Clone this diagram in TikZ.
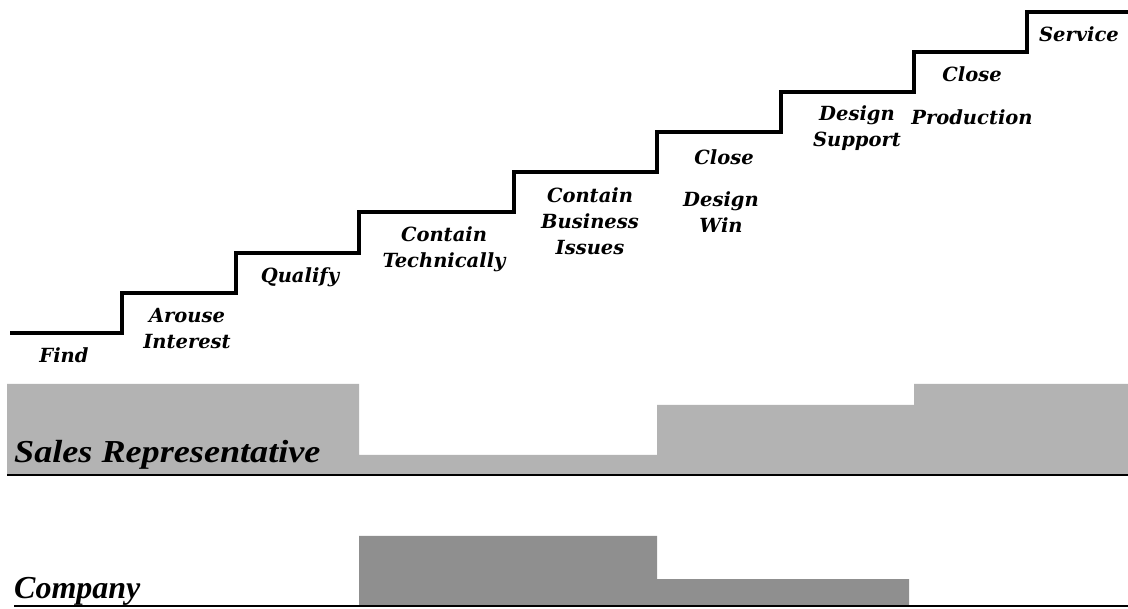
\documentclass[tikz,border=0pt]{standalone}
\usepackage{fontspec}
\setmainfont{DejaVu Serif}
\newfontfamily\rolefont{Liberation Serif}
\newfontfamily\salesfont[FakeStretch=1.13]{Liberation Serif}
\definecolor{salesgrey}{HTML}{B3B3B3}
\definecolor{compgrey}{HTML}{8F8F8F}
\begin{document}
\begin{tikzpicture}[x=1pt,y=-1pt,
  steplabel/.style={font=\fontsize{19.5}{26}\selectfont\bfseries\itshape, align=center, inner sep=0pt},
  rolelabel/.style={font=\rolefont\fontsize{32}{34}\selectfont\bfseries\itshape, anchor=base west, inner sep=0pt},
  stairline/.style={line width=4pt, line join=miter},
  baseline/.style={line width=1.6pt, black}]
\useasboundingbox (0,0) rectangle (1128,609);
% staircase
\draw[stairline] (10,333) -- (122,333) -- (122,293) -- (236,293) -- (236,253) -- (359,253)
  -- (359,212.5) -- (514,212.5) -- (514,172.5) -- (657,172.5) -- (657,132.5) -- (781,132.5)
  -- (781,92) -- (914,92) -- (914,52.5) -- (1027,52.5) -- (1027,12.5) -- (1128,12.5);
% step labels
\node[steplabel] (find) at (64,355) {Find};
\node[steplabel] (arouse) at (187,329) {Arouse\\Interest};
\node[steplabel] (qualify) at (300,277) {Qualify};
\node[steplabel] (techn) at (444,249) {Contain\\Technically};
\node[steplabel] (business) at (590,221) {Contain\\Business\\Issues};
\node[steplabel] (closedw) at (724,157) {Close};
\node[steplabel] (designwin) at (721,212) {Design\\Win};
\node[steplabel] (support) at (857,128) {Design\\Support};
\node[steplabel] (closeprod) at (972,74) {Close};
\node[steplabel] (production) at (972,117) {Production};
\node[steplabel] (service) at (1079,34) {Service};
% sales representative band
\fill[salesgrey] (7,384) -- (359,384) -- (359,455) -- (657,455) -- (657,405) -- (914,405)
  -- (914,384) -- (1128,384) -- (1128,475) -- (7,475) -- cycle;
\draw[baseline] (7,475) -- (1128,475);
\node[rolelabel, font=\salesfont\fontsize{32}{34}\selectfont\bfseries\itshape] (sales) at (14,463) {Sales Representative};
% company band
\fill[compgrey] (359,536) -- (657,536) -- (657,579) -- (909,579) -- (909,606) -- (359,606) -- cycle;
\draw[baseline] (14,606) -- (1128,606);
\node[rolelabel] (company) at (14,598) {Company};
\end{tikzpicture}
\end{document}
